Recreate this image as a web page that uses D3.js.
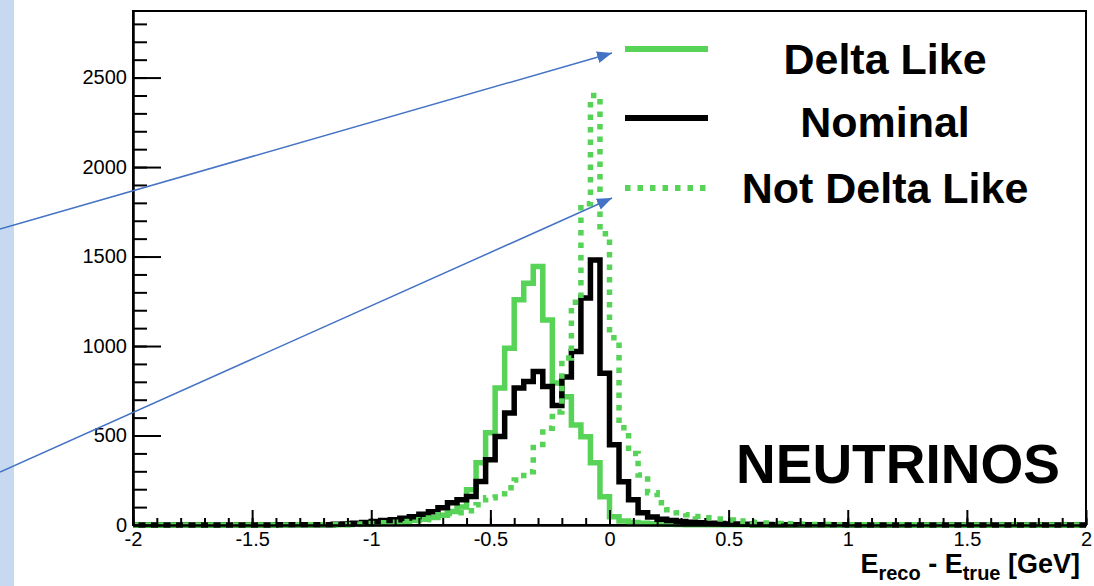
<!DOCTYPE html>
<html>
<head>
<meta charset="utf-8">
<script src="https://cdn.jsdelivr.net/npm/d3@7"></script>
<style>
  body { margin: 0; background: #fff; }
  svg { display: block; font-family: "Liberation Sans", Arial, Helvetica, sans-serif; }
  .axis path, .axis line { stroke: #000; stroke-width: 2; }
  .axis text { font-size: 20px; fill: #000; }
</style>
</head>
<body>
<svg id="chart" width="1094" height="586"></svg>
<script>
/* histogram binning: 100 bins of 0.04 GeV from -2 to 2 */
let xMin = -2;
let binWidth = 0.04;

/* counts per bin (10 bins per row) */
let deltaLike = [
    0, 0, 0, 0, 0, 0, 0, 0, 0, 0,
    0, 0, 0, 0, 0, 0, 1, 1, 1, 1,
    2, 2, 3, 4, 6, 8, 12, 16, 20, 26,
    32, 42, 55, 75, 100, 197, 348, 515, 765, 988,
    1258, 1351, 1444, 1146, 793, 716, 559, 493, 348, 158,
    46, 22, 14, 10, 7, 5, 4, 3, 2, 2,
    1, 1, 1, 1, 1, 0, 0, 0, 0, 0,
    0, 0, 0, 0, 0, 0, 0, 0, 0, 0,
    0, 0, 0, 0, 0, 0, 0, 0, 0, 0,
    0, 0, 0, 0, 0, 0, 0, 0, 0, 0
];
let nominal = [
    0, 0, 0, 0, 0, 0, 0, 0, 0, 0,
    0, 0, 0, 0, 0, 1, 1, 1, 1, 1,
    2, 4, 6, 10, 14, 20, 25, 30, 38, 46,
    60, 74, 96, 124, 141, 159, 243, 364, 494, 626,
    765, 802, 858, 774, 668, 827, 970, 1269, 1481, 848,
    448, 241, 141, 68, 45, 32, 25, 20, 16, 13,
    10, 8, 6, 5, 4, 3, 3, 2, 2, 2,
    1, 1, 1, 1, 1, 0, 0, 0, 0, 0,
    0, 0, 0, 0, 0, 0, 0, 0, 0, 0,
    0, 0, 0, 0, 0, 0, 0, 0, 0, 0
];
let notDeltaLike = [
    0, 0, 0, 0, 0, 0, 0, 0, 0, 0,
    0, 0, 0, 0, 0, 0, 0, 1, 1, 1,
    1, 1, 2, 4, 6, 9, 12, 15, 20, 25,
    30, 39, 57, 64, 68, 80, 113, 152, 174, 208,
    252, 297, 450, 540, 632, 933, 1245, 1795, 2400, 1627,
    1046, 543, 400, 280, 180, 124, 85, 68, 57, 48,
    40, 34, 28, 22, 18, 14, 11, 9, 7, 5,
    4, 3, 3, 2, 2, 1, 1, 1, 1, 1,
    1, 1, 0, 0, 0, 0, 0, 0, 0, 0,
    0, 0, 0, 0, 0, 0, 0, 0, 0, 0
];

let xTicks = [-2, -1.5, -1, -0.5, 0, 0.5, 1, 1.5, 2];
let yTicks = [0, 500, 1000, 1500, 2000, 2500];
let legendLabels = ['Delta Like', 'Nominal', 'Not Delta Like'];

let green = '#57d357';

let svg = d3.select('#chart');

/* light blue strip of the slide on the left */
svg.append('rect')
    .attr('x', 0).attr('y', 0)
    .attr('width', 14).attr('height', 586)
    .attr('fill', '#c6d9f0');

/* frame in pixels */
let frame = {left: 133, right: 1086, top: 11, bottom: 525};

let x = d3.scaleLinear()
    .domain([-2, 2])
    .range([frame.left, frame.right]);
let y = d3.scaleLinear()
    .domain([0, 2872])
    .range([frame.bottom, frame.top]);

/* step outline for a histogram */
function stepPoints(values) {
    let pts = [];
    values.forEach((v, i) => {
        let lo = xMin + i * binWidth;
        pts.push([lo, v]);
        pts.push([lo + binWidth, v]);
    });
    return pts;
}
let line = d3.line()
    .x(d => x(d[0]))
    .y(d => y(d[1]));

/* frame box */
svg.append('rect')
    .attr('x', frame.left).attr('y', frame.top)
    .attr('width', frame.right - frame.left)
    .attr('height', frame.bottom - frame.top)
    .attr('fill', 'none')
    .attr('stroke', '#000')
    .attr('stroke-width', 2);

/* histograms: solid green, black, dotted green on top */
let series = [
    {values: deltaLike, color: green, dash: null},
    {values: nominal, color: '#000', dash: null},
    {values: notDeltaLike, color: green, dash: '5.5,7'}
];
series.forEach(s => {
    svg.append('path')
        .attr('d', line(stepPoints(s.values)))
        .attr('fill', 'none')
        .attr('stroke', s.color)
        .attr('stroke-width', 5.5)
        .attr('stroke-linejoin', 'miter')
        .attr('stroke-dasharray', s.dash);
});

/* x axis: major and minor ticks pointing into the frame */
svg.append('g')
    .attr('class', 'axis')
    .attr('transform', `translate(0,${frame.bottom})`)
    .call(d3.axisBottom(x)
        .tickValues(d3.range(-2, 2.001, 0.1))
        .tickSize(-7).tickSizeOuter(0)
        .tickFormat(''));
svg.append('g')
    .attr('class', 'axis')
    .attr('transform', `translate(0,${frame.bottom})`)
    .call(d3.axisBottom(x)
        .tickValues(xTicks)
        .tickSize(-15).tickSizeOuter(0)
        .tickPadding(7)
        .tickFormat(d => d3.format('')(d).replace('−', '-')));

/* y axis */
svg.append('g')
    .attr('class', 'axis')
    .attr('transform', `translate(${frame.left},0)`)
    .call(d3.axisLeft(y)
        .tickValues(d3.range(0, 2801, 100))
        .tickSize(-14).tickSizeOuter(0)
        .tickFormat(''));
svg.append('g')
    .attr('class', 'axis')
    .attr('transform', `translate(${frame.left},0)`)
    .call(d3.axisLeft(y)
        .tickValues(yTicks)
        .tickSize(-28).tickSizeOuter(0)
        .tickPadding(6)
        .tickFormat(d3.format('d')));

/* x axis title with subscripts */
let xt = svg.append('text')
    .attr('x', 1080).attr('y', 573)
    .attr('text-anchor', 'end')
    .attr('font-weight', 'bold')
    .attr('font-size', 27);
xt.append('tspan').text('E');
xt.append('tspan').attr('font-size', 20).attr('dy', 7).text('reco');
xt.append('tspan').attr('dy', -7).text(' - E');
xt.append('tspan').attr('font-size', 20).attr('dy', 7).text('true');
xt.append('tspan').attr('dy', -7).text(' [GeV]');

/* legend */
let legendY = [49, 118, 188];
let legendBase = [74, 137, 203];
legendLabels.forEach((label, i) => {
    svg.append('line')
        .attr('x1', 625).attr('x2', 708)
        .attr('y1', legendY[i]).attr('y2', legendY[i])
        .attr('stroke', series[i].color)
        .attr('stroke-width', 6)
        .attr('stroke-dasharray', series[i].dash);
    svg.append('text')
        .attr('x', 885).attr('y', legendBase[i])
        .attr('text-anchor', 'middle')
        .attr('font-weight', 'bold')
        .attr('font-size', 43)
        .text(label);
});

svg.append('text')
    .attr('x', 736).attr('y', 483)
    .attr('font-weight', 'bold')
    .attr('font-size', 55)
    .text('NEUTRINOS');

/* blue callout arrows */
svg.append('defs').append('marker')
    .attr('id', 'arrow')
    .attr('markerUnits', 'userSpaceOnUse')
    .attr('markerWidth', 16).attr('markerHeight', 14)
    .attr('viewBox', '0 -7 16 14')
    .attr('refX', 15).attr('refY', 0)
    .attr('orient', 'auto')
    .append('path')
    .attr('d', 'M0,-6L15,0L0,6Z')
    .attr('fill', '#4472c4');

let arrows = [
    [[0, 229], [612, 53]],
    [[0, 472], [612, 198]]
];
arrows.forEach(a => {
    svg.append('line')
        .attr('x1', a[0][0]).attr('y1', a[0][1])
        .attr('x2', a[1][0]).attr('y2', a[1][1])
        .attr('stroke', '#4472c4')
        .attr('stroke-width', 1.5)
        .attr('marker-end', 'url(#arrow)');
});
</script>
</body>
</html>
